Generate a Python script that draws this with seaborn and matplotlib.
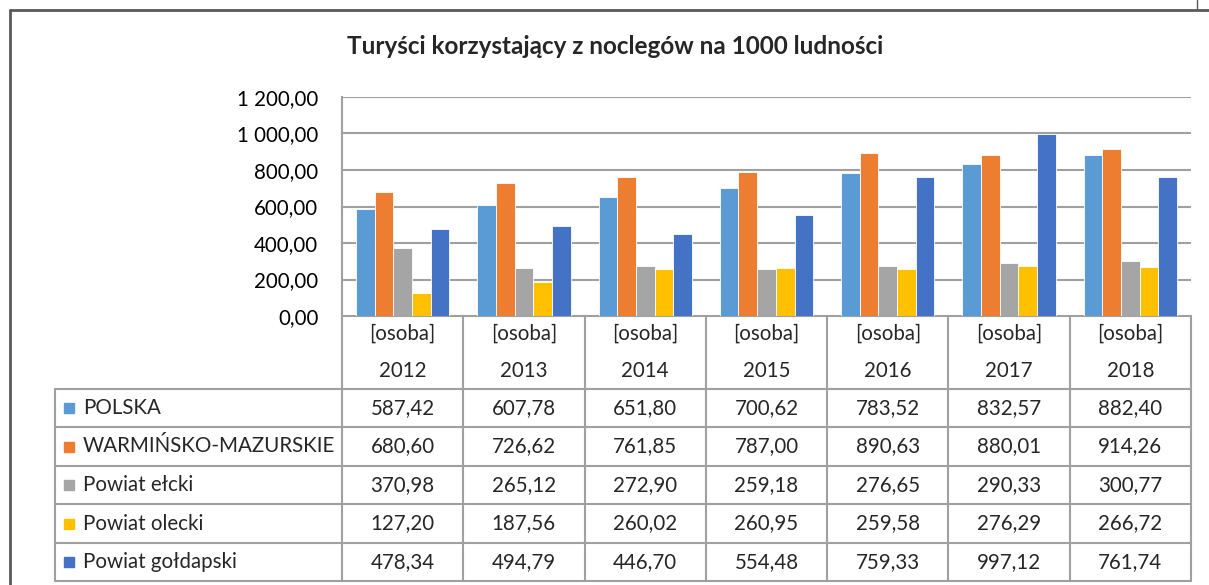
import pandas as pd
import numpy as np
import matplotlib
matplotlib.use("Agg")
import matplotlib.pyplot as plt
from matplotlib.ticker import FuncFormatter
import seaborn as sns

years = ["2012", "2013", "2014", "2015", "2016", "2017", "2018"]
unit = "[osoba]"
series_names = ["POLSKA", "WARMIŃSKO-MAZURSKIE", "Powiat ełcki",
                "Powiat olecki", "Powiat gołdapski"]
polska = [587.42, 607.78, 651.80, 700.62, 783.52, 832.57, 882.40]
warminsko = [680.60, 726.62, 761.85, 787.00, 890.63, 880.01, 914.26]
elcki = [370.98, 265.12, 272.90, 259.18, 276.65, 290.33, 300.77]
olecki = [127.20, 187.56, 260.02, 260.95, 259.58, 276.29, 266.72]
goldapski = [478.34, 494.79, 446.70, 554.48, 759.33, 997.12, 761.74]
colors = ["#5B9BD5", "#ED7D31", "#A5A5A5", "#FFC000", "#4472C4"]
title = "Turyści korzystający z noclegów na 1000 ludności"

values = [polska, warminsko, elcki, olecki, goldapski]
df = pd.DataFrame({
    "year": years * len(series_names),
    "series": [s for s in series_names for _ in years],
    "value": [v for vals in values for v in vals],
})

sns.set_style("white")
plt.rcParams["font.family"] = ["Lato", "DejaVu Sans"]

W, H = 1209, 585
fig = plt.figure(figsize=(W / 100, H / 100), dpi=100)

# pixel layout
px_left, px_right = 342, 1191
px_top, px_bottom = 97, 316
grid_col = "#A0A0A0"
line_col = "#A0A0A0"
fs = 14.8

ax = fig.add_axes([px_left / W, 1 - px_bottom / H,
                   (px_right - px_left) / W, (px_bottom - px_top) / H])
sns.barplot(data=df, x="year", y="value", hue="series", palette=colors,
            width=0.77, ax=ax, edgecolor="white", linewidth=0.6,
            legend=False, saturation=1)
ax.set_xlim(-0.5, len(years) - 0.5)
ax.set_ylim(0, 1200)
ax.set_yticks(np.arange(0, 1201, 200))
ax.yaxis.set_major_formatter(FuncFormatter(
    lambda v, p: f"{v:,.2f}".replace(",", " ").replace(".", ",")))
ax.tick_params(axis="y", length=0, labelsize=fs, pad=17, colors="#000000")
ax.set_xticks([])
ax.set_xlabel("")
ax.set_ylabel("")
ax.grid(axis="y", color=grid_col, linewidth=1.5)
ax.set_axisbelow(True)
for s in ["top", "right", "bottom"]:
    ax.spines[s].set_visible(False)
ax.spines["left"].set_color(line_col)
ax.spines["left"].set_linewidth(1.5)

# overlay in pixel coordinates for the table and frame
ov = fig.add_axes([0, 0, 1, 1], zorder=-1)
ov.set_xlim(0, W)
ov.set_ylim(H, 0)
ov.axis("off")
ov.patch.set_alpha(0)

# outer chart border (left and top visible)
ov.plot([10, 10], [10, H], color="#595959", linewidth=2)
ov.plot([10, W], [10, 10], color="#595959", linewidth=2)
ov.plot([1197, 1197], [0, 9], color="#595959", linewidth=1)

ov.text(615, 47, title, ha="center", va="center", fontsize=17.5,
        fontweight="bold")

ncol = len(years)
colw = (px_right - px_left) / ncol
row_edges = [389, 427, 466, 504, 543, 581]
tab_left = 55

# table lines
ov.plot([px_left, px_right], [px_bottom, px_bottom], color=line_col, lw=1.5)
for i in range(ncol + 1):
    x = px_left + i * colw
    ov.plot([x, x], [px_bottom, row_edges[-1]], color=line_col, lw=1.5)
for y in row_edges:
    ov.plot([tab_left, px_right], [y, y], color=line_col, lw=1.5)
ov.plot([tab_left, tab_left], [row_edges[0], row_edges[-1]], color=line_col,
        lw=1.5)

# header cells
for i, yr in enumerate(years):
    cx = px_left + (i + 0.5) * colw
    ov.text(cx, 334, unit, ha="center", va="center", fontsize=fs)
    ov.text(cx, 371, yr, ha="center", va="center", fontsize=fs)

# data rows
for r, (name, vals, c) in enumerate(zip(series_names, values, colors)):
    cy = (row_edges[r] + row_edges[r + 1]) / 2
    ov.add_patch(plt.Rectangle((64, cy - 5), 10, 10, color=c))
    ov.text(83, cy, name, ha="left", va="center", fontsize=fs)
    for i, v in enumerate(vals):
        cx = px_left + (i + 0.5) * colw
        ov.text(cx, cy, f"{v:.2f}".replace(".", ","), ha="center",
                va="center", fontsize=fs)

fig.savefig("out.png", dpi=100)
